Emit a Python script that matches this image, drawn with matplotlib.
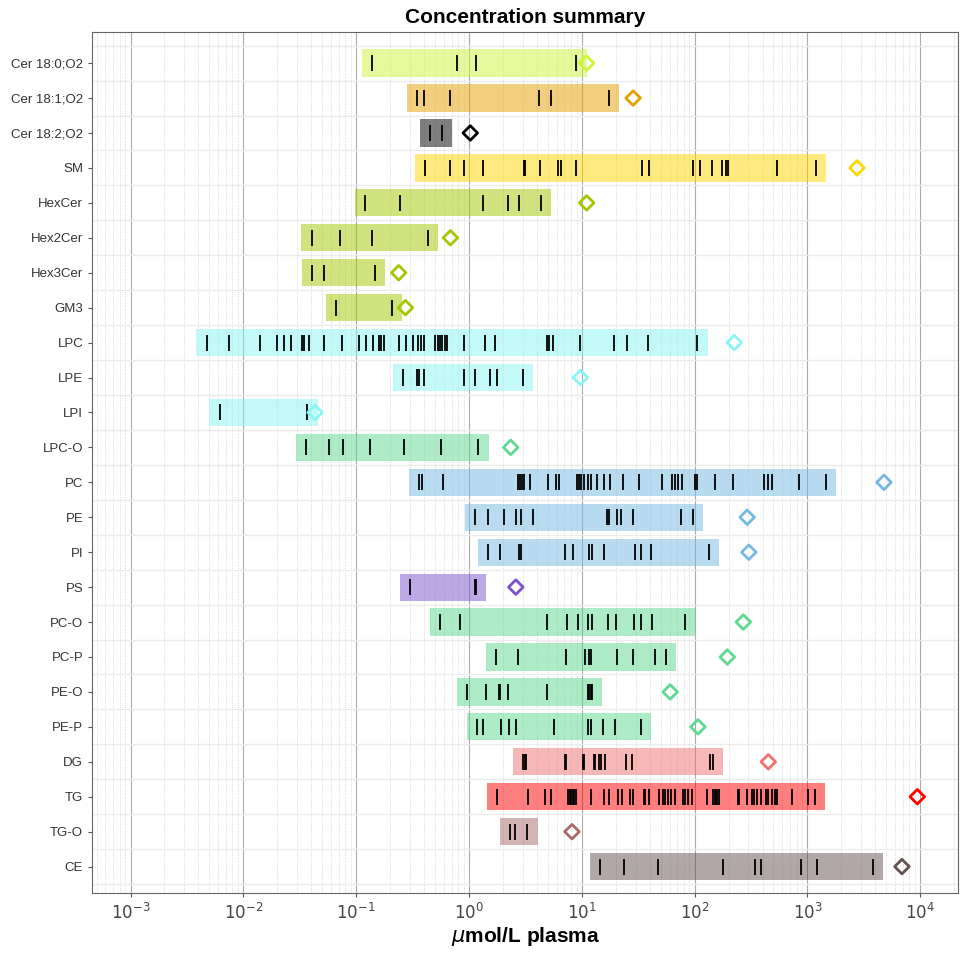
import numpy as np
import matplotlib.pyplot as plt

plt.rcParams['font.family'] = ['Liberation Sans', 'DejaVu Sans']

classes = ["Cer 18:0;O2", "Cer 18:1;O2", "Cer 18:2;O2", "SM", "HexCer", "Hex2Cer",
           "Hex3Cer", "GM3", "LPC", "LPE", "LPI", "LPC-O", "PC", "PE", "PI", "PS",
           "PC-O", "PC-P", "PE-O", "PE-P", "DG", "TG", "TG-O", "CE"]

# species concentrations (umol/L plasma)
cer180 = [0.138, 0.78, 1.15, 8.95]
cer181 = [0.348, 0.402, 0.68, 4.18, 5.38, 17.5]
cer182 = [0.449, 0.578]
sm = [0.405, 0.673, 0.912, 1.34, 3.05, 3.15, 4.22, 6.21, 6.53, 8.95, 34.5, 39.3,
      96, 112, 143, 176, 190, 199, 533, 1188]
hexcer = [0.12, 0.247, 1.34, 2.23, 2.79, 4.31]
hex2cer = [0.0402, 0.0722, 0.137, 0.435]
hex3cer = [0.0409, 0.0518, 0.1456]
gm3 = [0.0659, 0.2075]
lpc = [0.00472, 0.00745, 0.0141, 0.0197, 0.0228, 0.0265, 0.0331, 0.0348, 0.0381,
       0.0517, 0.0745, 0.107, 0.121, 0.141, 0.158, 0.166, 0.178, 0.242, 0.279,
       0.318, 0.355, 0.374, 0.402, 0.497, 0.528, 0.555, 0.578, 0.608, 0.634, 0.904,
       1.38, 1.69, 4.87, 5.07, 5.55, 9.7, 19.1, 24.9, 38.9, 106]
lpe = [0.262, 0.348, 0.362, 0.397, 0.904, 1.14, 1.52, 1.77, 3.02]
lpi = [0.00615, 0.037]
lpco = [0.0362, 0.0573, 0.0767, 0.1315, 0.267, 0.561, 1.213]
pc = [0.362, 0.385, 0.584, 2.73, 2.81, 2.93, 3.05, 3.48, 4.97, 5.90, 6.27, 9.04,
      9.5, 9.9, 10.5, 11.4, 12.0, 13.7, 15.8, 17.8, 23.2, 32.1, 51.2, 63.4, 67.3,
      71.6, 76.8, 101, 106, 153, 221, 414, 444, 487, 841, 1469]
pe = [1.14, 1.47, 2.03, 2.62, 2.90, 3.66, 16.8, 17.5, 20.5, 22.1, 28.4, 76, 97]
pi = [1.47, 1.88, 2.76, 2.90, 7.16, 8.41, 11.6, 12.4, 15.8, 29.6, 33.4, 40.9, 134]
ps = [0.302, 1.14, 1.16]
pco = [0.555, 0.834, 4.92, 7.40, 9.2, 11.3, 12.2, 17.0, 20.0, 29.0, 33.5, 42.0, 82.2]
pcp = [1.73, 2.71, 7.23, 10.7, 11.5, 12.1, 20.3, 28.3, 44.9, 55.5]
peo = [0.97, 1.41, 1.85, 1.90, 2.23, 4.95, 11.3, 11.6, 12.1, 12.4]
pep = [1.17, 1.32, 1.91, 2.28, 2.61, 5.71, 11.3, 12.1, 15.5, 19.7, 33.5]
dg = [3.03, 3.13, 3.22, 7.06, 7.28, 10.2, 10.5, 12.7, 13.2, 14.1, 14.7, 16.2, 24.7,
      27.9, 137, 145]
tg = [1.76, 3.32, 4.70, 5.34, 7.56, 7.80, 8.03, 8.28, 8.60, 8.93, 12.0, 15.6, 17.5,
      21.1, 22.8, 26.5, 28.6, 35.3, 36.6, 39.5, 48.5, 52.3, 55.1, 58.5, 61.2, 66.5,
      79.1, 82.2, 86.7, 95.5, 129, 145, 150, 154, 158, 165, 240, 249, 294, 320, 337,
      358, 386, 426, 443, 484, 519, 534, 734, 1007, 1172]
tgo = [2.31, 2.57, 3.30]
ce = [14.6, 23.8, 47.0, 179, 340, 384, 881, 1208, 3802]

species = [cer180, cer181, cer182, sm, hexcer, hex2cer, hex3cer, gm3, lpc, lpe, lpi,
           lpco, pc, pe, pi, ps, pco, pcp, peo, pep, dg, tg, tgo, ce]

colors = ["#ccf53a", "#e69f00", "#000000", "#ffd700", "#a3c800", "#a3c800",
          "#a3c800", "#a3c800", "#89f5f5", "#89f5f5", "#89f5f5", "#5dd991",
          "#73b9e1", "#73b9e1", "#73b9e1", "#7a52cc", "#5dd991", "#5dd991",
          "#5dd991", "#5dd991", "#ef7070", "#ff0000", "#a96969", "#655050"]

fig, ax = plt.subplots(figsize=(9.6, 9.6), dpi=100)
fig.subplots_adjust(left=0.096, right=0.998, top=0.967, bottom=0.07)

pad = 1.23
n = len(classes)
for i, (vals, col) in enumerate(zip(species, colors)):
    y = i
    lo, hi = min(vals) / pad, max(vals) * pad
    ax.barh(y, hi - lo, left=lo, height=0.78, color=col, alpha=0.5, lw=0, zorder=2)
    ax.vlines(vals, y - 0.23, y + 0.23, color="black", lw=1.3, zorder=3)
    ax.scatter([sum(vals)], [y], marker="D", s=55, facecolor="none",
               edgecolor=col, linewidth=2, zorder=4)

ax.set_xscale("log")
ax.set_xlim(10 ** -3.34, 10 ** 4.335)
ax.set_ylim(n - 0.5 + 0.25, -0.5 - 0.4)
ax.set_yticks(range(n))
ax.set_yticklabels(classes, fontsize=9.5, color="#333333")
ax.set_yticks(np.arange(-0.5, n, 1), minor=True)
ax.set_xticks([10.0 ** k for k in range(-3, 5)])
ax.set_xticklabels([f"$10^{{{k}}}$" for k in range(-3, 5)], fontsize=12, color="#444444")
ax.tick_params(axis="y", which="minor", length=0)
ax.tick_params(axis="both", which="major", length=3, color="#555555")
ax.tick_params(axis="x", which="minor", length=0)
ax.grid(True, axis="x", which="major", color="#aaaaaa", lw=0.8, zorder=0)
ax.grid(True, axis="x", which="minor", color="#cccccc", lw=0.6, ls=":", zorder=0)
ax.grid(True, axis="y", which="minor", color="#ebebeb", lw=1, zorder=0)
ax.set_axisbelow(True)
for s in ax.spines.values():
    s.set_color("#666666")
    s.set_linewidth(0.8)

ax.set_title("Concentration summary", fontsize=15, fontweight="bold", pad=6)
ax.set_xlabel(r"$\mu$mol/L plasma", fontsize=15, fontweight="bold", labelpad=2)

fig.savefig("out.png", dpi=100)
